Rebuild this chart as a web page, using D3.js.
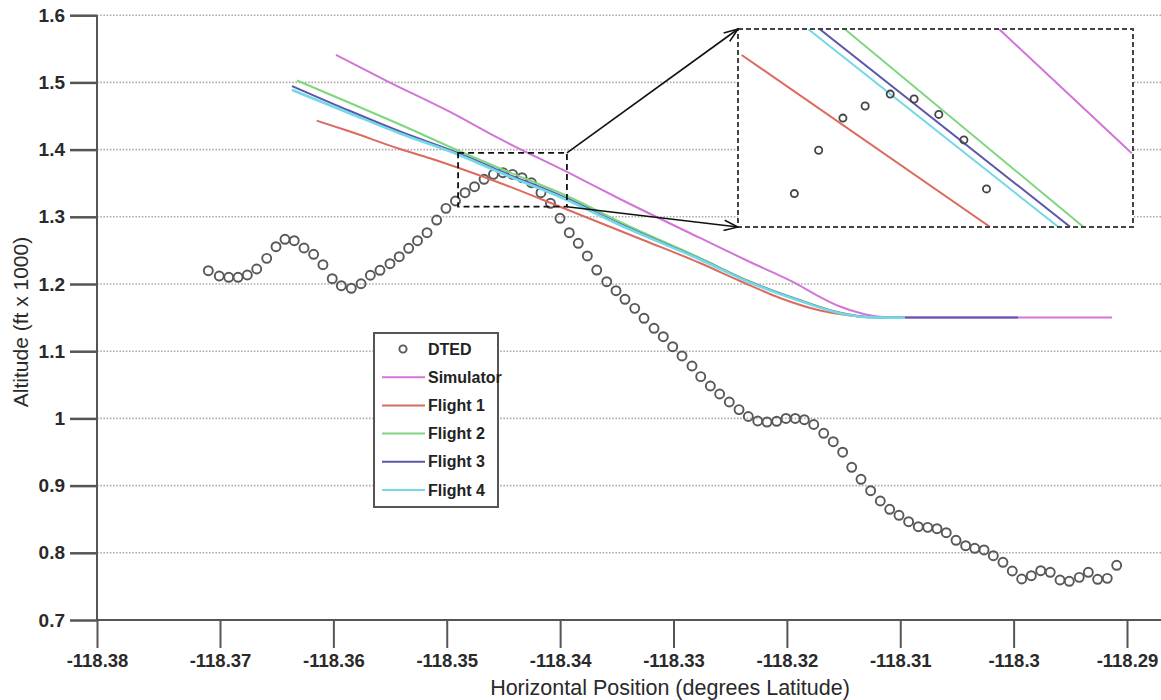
<!DOCTYPE html>
<html>
<head>
<meta charset="utf-8">
<script src="https://cdn.jsdelivr.net/npm/d3@7"></script>
<style>
  html, body { margin: 0; padding: 0; background: #fff; }
  svg { display: block; font-family: "Liberation Sans", Arial, sans-serif; }
</style>
</head>
<body>
<svg id="chart" width="1161" height="700"></svg>
<script>
// Axis ticks
const xTicks = [-118.38, -118.37, -118.36, -118.35, -118.34, -118.33, -118.32, -118.31, -118.3, -118.29];
const yTicks = [0.7, 0.8, 0.9, 1, 1.1, 1.2, 1.3, 1.4, 1.5, 1.6];

// DTED terrain samples (longitude, altitude in ft x 1000)
const dtedLon = [
  -118.37095, -118.37006, -118.36923, -118.36841, -118.36759, -118.36676, -118.36588, -118.36506,
  -118.36427, -118.36345, -118.36259, -118.36174, -118.36092, -118.36010, -118.35930, -118.35842,
  -118.35756, -118.35674, -118.35589, -118.35501, -118.35419, -118.35336, -118.35258, -118.35174,
  -118.35089, -118.35007, -118.34923, -118.34839, -118.34755, -118.34671, -118.34588, -118.34504,
  -118.34420, -118.34336, -118.34253, -118.34169, -118.34085, -118.34001, -118.33919, -118.33840,
  -118.33760, -118.33677, -118.33589, -118.33507, -118.33428, -118.33342, -118.33260, -118.33172,
  -118.33090, -118.33007, -118.32925, -118.32837, -118.32760, -118.32675, -118.32593, -118.32508,
  -118.32422, -118.32340, -118.32257, -118.32175, -118.32090, -118.32008, -118.31926, -118.31846,
  -118.31763, -118.31675, -118.31591, -118.31508, -118.31428, -118.31346, -118.31261, -118.31176,
  -118.31093, -118.31011, -118.30926, -118.30841, -118.30758, -118.30676, -118.30594, -118.30508,
  -118.30423, -118.30343, -118.30261, -118.30179, -118.30094, -118.30012, -118.29929, -118.29844,
  -118.29761, -118.29677, -118.29591, -118.29509, -118.29421, -118.29341, -118.29259, -118.29174,
  -118.29091
];
const dtedAlt = [
  1.2198, 1.2119, 1.2100, 1.2100, 1.2134, 1.2223, 1.2382, 1.2555,
  1.2665, 1.2644, 1.2536, 1.2442, 1.2287, 1.2079, 1.1975, 1.1936,
  1.2004, 1.2130, 1.2204, 1.2302, 1.2406, 1.2531, 1.2644, 1.2763,
  1.2952, 1.3126, 1.3235, 1.3359, 1.3448, 1.3558, 1.3632, 1.3656,
  1.3632, 1.3582, 1.3507, 1.3359, 1.3201, 1.2978, 1.2763, 1.2606,
  1.2417, 1.2208, 1.2034, 1.1900, 1.1772, 1.1638, 1.1490, 1.1341,
  1.1216, 1.1067, 1.0929, 1.0780, 1.0621, 1.0482, 1.0363, 1.0244,
  1.0131, 1.0028, 0.9961, 0.9946, 0.9957, 0.9999, 0.9999, 0.9981,
  0.9909, 0.9778, 0.9653, 0.9497, 0.9272, 0.9094, 0.8924, 0.8771,
  0.8647, 0.8558, 0.8463, 0.8388, 0.8379, 0.8359, 0.8299, 0.8186,
  0.8106, 0.8067, 0.8042, 0.7957, 0.7859, 0.7729, 0.7610, 0.7659,
  0.7734, 0.7710, 0.7595, 0.7576, 0.7635, 0.7710, 0.7606, 0.7620,
  0.7814
];

// Simulator path
const simLon = [-118.35977, -118.35518, -118.34971, -118.34530, -118.33939, -118.33472, -118.32766, -118.32325,
  -118.31946, -118.31708, -118.31531, -118.31355, -118.31179, -118.31002, -118.29132];
const simAlt = [1.5408, 1.5013, 1.4560, 1.4158, 1.3667, 1.3265, 1.2685, 1.2327,
  1.2030, 1.1807, 1.1665, 1.1568, 1.1512, 1.1500, 1.1500];

// Flight 1
const f1Lon = [-118.36147, -118.35853, -118.35412, -118.35148, -118.34530, -118.34001, -118.33269, -118.32766,
  -118.32414, -118.32061, -118.31708, -118.31443, -118.31179, -118.31002, -118.30958];
const f1Alt = [1.4430, 1.4269, 1.4009, 1.3871, 1.3503, 1.3150, 1.2655, 1.2312,
  1.2045, 1.1792, 1.1606, 1.1531, 1.1502, 1.1500, 1.1500];

// Flight 2
const f2Lon = [-118.36321, -118.35853, -118.35412, -118.34901, -118.34530, -118.33939, -118.33472, -118.32766,
  -118.32325, -118.31884, -118.31531, -118.31267, -118.31002, -118.30958];
const f2Alt = [1.5028, 1.4693, 1.4374, 1.3987, 1.3719, 1.3310, 1.2923, 1.2387,
  1.2037, 1.1762, 1.1576, 1.1509, 1.1500, 1.1500];

// Flight 3
const f3Lon = [-118.36365, -118.35853, -118.35412, -118.34901, -118.34530, -118.33939, -118.33472, -118.32766,
  -118.32325, -118.31884, -118.31531, -118.31267, -118.31002, -118.29961];
const f3Alt = [1.4946, 1.4574, 1.4269, 1.3949, 1.3682, 1.3272, 1.2893, 1.2372,
  1.2030, 1.1754, 1.1568, 1.1504, 1.1500, 1.1500];

// Flight 4
const f4Lon = [-118.36365, -118.35853, -118.35412, -118.34901, -118.34530, -118.33939, -118.33472, -118.32766,
  -118.32325, -118.31884, -118.31531, -118.31267, -118.31002, -118.30958];
const f4Alt = [1.4887, 1.4537, 1.4240, 1.3927, 1.3659, 1.3250, 1.2878, 1.2365,
  1.2022, 1.1747, 1.1565, 1.1504, 1.1500, 1.1500];

// Detail window around the ridge crest
const boxLon = [-118.349, -118.3394];
const boxAlt = [1.315, 1.395];

// Samples shown in the magnified detail
const zoomDtedLon = [-118.34763, -118.34704, -118.34645, -118.34591, -118.34530, -118.34472, -118.34412, -118.34351, -118.34296];
const zoomDtedAlt = [1.3285, 1.3460, 1.3590, 1.3639, 1.3687, 1.3667, 1.3605, 1.3502, 1.3304];
const zoomSimLon = [-118.34265, -118.33943];
const zoomSimAlt = [1.3949, 1.3448];
const zoomF1Lon = [-118.34891, -118.34288];
const zoomF1Alt = [1.3845, 1.3151];
const zoomF2Lon = [-118.34640, -118.34061];
const zoomF2Alt = [1.3949, 1.3151];
const zoomF3Lon = [-118.34701, -118.34093];
const zoomF3Alt = [1.3949, 1.3151];
const zoomF4Lon = [-118.34729, -118.34122];
const zoomF4Alt = [1.3949, 1.3151];

const seriesNames = ["DTED", "Simulator", "Flight 1", "Flight 2", "Flight 3", "Flight 4"];
const seriesColors = ["#585858", "#d274d8", "#dd6a5e", "#80d680", "#5a56aa", "#74d8e6"];

// ---------------------------------------------------------------
const svg = d3.select("#chart");
const W = 1161;

const x = d3.scaleLinear().domain([-118.38, -118.37, -118.29]).range([97, 220, 1127]);
const y = d3.scaleLinear().domain([0.7, 1.6]).range([620, 15.2]);

const axisColor = "#555";
const labelColor = "#2a2a2a";

// dotted horizontal grid
svg.append("g").selectAll("line")
  .data(yTicks.filter(d => d > 0.7))
  .join("line")
  .attr("x1", x(-118.38)).attr("x2", W)
  .attr("y1", d => y(d)).attr("y2", d => y(d))
  .attr("stroke", "#adadad").attr("stroke-width", 1.6)
  .attr("stroke-dasharray", "1.6,1.6");

// y axis
const yAxis = svg.append("g")
  .attr("transform", `translate(${x(-118.38)},0)`)
  .call(d3.axisLeft(y).tickValues(yTicks).tickSize(27).tickPadding(5).tickFormat(d => String(d)));
yAxis.select(".domain").attr("stroke", axisColor).attr("stroke-width", 2)
  .attr("d", `M0,${y(1.6)}V${y(0.7)}`);
yAxis.selectAll(".tick line").attr("stroke", axisColor).attr("stroke-width", 2.5);
yAxis.selectAll(".tick text")
  .attr("fill", labelColor).attr("font-size", 19).attr("font-weight", "bold")
  .attr("font-family", "'Liberation Sans', Arial, sans-serif");

// x axis
const xAxis = svg.append("g")
  .attr("transform", `translate(0,${y(0.7)})`)
  .call(d3.axisBottom(x).tickValues(xTicks).tickSize(28).tickPadding(6).tickFormat(d => String(d)));
xAxis.select(".domain").attr("stroke", axisColor).attr("stroke-width", 2)
  .attr("d", `M${x(-118.38)},0H${W}`);
xAxis.selectAll(".tick line").attr("stroke", axisColor).attr("stroke-width", 2);
xAxis.selectAll(".tick text")
  .attr("fill", labelColor).attr("font-size", 18.5).attr("font-weight", "bold")
  .attr("font-family", "'Liberation Sans', Arial, sans-serif");

// axis titles
svg.append("text")
  .attr("x", 670).attr("y", 695)
  .attr("text-anchor", "middle")
  .attr("font-size", 21.5).attr("fill", labelColor)
  .text("Horizontal Position (degrees Latitude)");
svg.append("text")
  .attr("transform", `translate(28,${322}) rotate(-90)`)
  .attr("text-anchor", "middle")
  .attr("font-size", 21).attr("fill", labelColor)
  .text("Altitude (ft x 1000)");

// series
const lineGen = d3.line().x(d => x(d[0])).y(d => y(d[1])).curve(d3.curveMonotoneX);
const zip = (a, b) => a.map((v, i) => [v, b[i]]);

svg.append("g").selectAll("circle")
  .data(zip(dtedLon, dtedAlt))
  .join("circle")
  .attr("cx", d => x(d[0])).attr("cy", d => y(d[1])).attr("r", 4.5)
  .attr("fill", "none").attr("stroke", seriesColors[0]).attr("stroke-width", 1.9);

const lines = [
  [simLon, simAlt], [f1Lon, f1Alt], [f2Lon, f2Alt], [f3Lon, f3Alt], [f4Lon, f4Alt]
];
const lineWidths = [2, 2, 2, 2, 2.6];
lines.forEach((s, i) => {
  svg.append("path")
    .datum(zip(s[0], s[1]))
    .attr("d", lineGen)
    .attr("fill", "none")
    .attr("stroke", seriesColors[i + 1])
    .attr("stroke-width", lineWidths[i]);
});

// detail window on the main plot
const bx0 = x(boxLon[0]), bx1 = x(boxLon[1]);
const by0 = y(boxAlt[1]), by1 = y(boxAlt[0]);
svg.append("rect")
  .attr("x", bx0).attr("y", by0).attr("width", bx1 - bx0).attr("height", by1 - by0)
  .attr("fill", "none").attr("stroke", "#111").attr("stroke-width", 1.8)
  .attr("stroke-dasharray", "6,4");

// magnified panel
const panel = { x0: 738, x1: 1133, y0: 29, y1: 227 };
const zx = d3.scaleLinear().domain(boxLon).range([panel.x0, panel.x1]);
const zy = d3.scaleLinear().domain(boxAlt).range([panel.y1, panel.y0]);

svg.append("defs").append("clipPath").attr("id", "zoomClip")
  .append("rect").attr("x", panel.x0).attr("y", panel.y0)
  .attr("width", panel.x1 - panel.x0).attr("height", panel.y1 - panel.y0);

svg.append("rect")
  .attr("x", panel.x0).attr("y", panel.y0)
  .attr("width", panel.x1 - panel.x0).attr("height", panel.y1 - panel.y0)
  .attr("fill", "#fff");

const zoomLine = d3.line().x(d => zx(d[0])).y(d => zy(d[1]));
const zg = svg.append("g").attr("clip-path", "url(#zoomClip)");
const zoomLines = [
  [zoomSimLon, zoomSimAlt], [zoomF1Lon, zoomF1Alt], [zoomF2Lon, zoomF2Alt],
  [zoomF3Lon, zoomF3Alt], [zoomF4Lon, zoomF4Alt]
];
zoomLines.forEach((s, i) => {
  zg.append("path")
    .datum(zip(s[0], s[1]))
    .attr("d", zoomLine)
    .attr("fill", "none")
    .attr("stroke", seriesColors[i + 1])
    .attr("stroke-width", 2);
});
zg.selectAll("circle")
  .data(zip(zoomDtedLon, zoomDtedAlt))
  .join("circle")
  .attr("cx", d => zx(d[0])).attr("cy", d => zy(d[1])).attr("r", 3.6)
  .attr("fill", "none").attr("stroke", "#444").attr("stroke-width", 1.8);

svg.append("rect")
  .attr("x", panel.x0).attr("y", panel.y0)
  .attr("width", panel.x1 - panel.x0).attr("height", panel.y1 - panel.y0)
  .attr("fill", "none").attr("stroke", "#444").attr("stroke-width", 2)
  .attr("stroke-dasharray", "5,3");

// connector arrows
svg.select("defs").append("marker")
  .attr("id", "openArrow")
  .attr("viewBox", "0 0 16 12")
  .attr("refX", 15).attr("refY", 6)
  .attr("markerWidth", 16).attr("markerHeight", 12)
  .attr("markerUnits", "userSpaceOnUse")
  .attr("orient", "auto")
  .append("path")
  .attr("d", "M1,0.8 L15,6 L1,11.2")
  .attr("fill", "none").attr("stroke", "#111").attr("stroke-width", 1.6);

[[bx1, by0, panel.x0, panel.y0], [bx1, by1, panel.x0, panel.y1]].forEach(a => {
  svg.append("line")
    .attr("x1", a[0]).attr("y1", a[1]).attr("x2", a[2]).attr("y2", a[3])
    .attr("stroke", "#111").attr("stroke-width", 1.6)
    .attr("marker-end", "url(#openArrow)");
});

// legend
const lg = svg.append("g");
const L = { x: 374, y: 333, w: 124, h: 174, row: 28.2, first: 16 };
lg.append("rect")
  .attr("x", L.x).attr("y", L.y).attr("width", L.w).attr("height", L.h)
  .attr("fill", "#fff").attr("stroke", "#555").attr("stroke-width", 2);
seriesNames.forEach((name, i) => {
  const cy = L.y + L.first + i * L.row;
  if (i === 0) {
    lg.append("circle").attr("cx", L.x + 29).attr("cy", cy).attr("r", 3.6)
      .attr("fill", "none").attr("stroke", seriesColors[0]).attr("stroke-width", 1.9);
  } else {
    lg.append("line").attr("x1", L.x + 8).attr("x2", L.x + 51)
      .attr("y1", cy).attr("y2", cy)
      .attr("stroke", seriesColors[i]).attr("stroke-width", 2);
  }
  lg.append("text")
    .attr("x", L.x + 54).attr("y", cy).attr("dy", "0.35em")
    .attr("font-size", 16).attr("font-weight", "bold").attr("fill", "#222")
    .text(name);
});
</script>
</body>
</html>
